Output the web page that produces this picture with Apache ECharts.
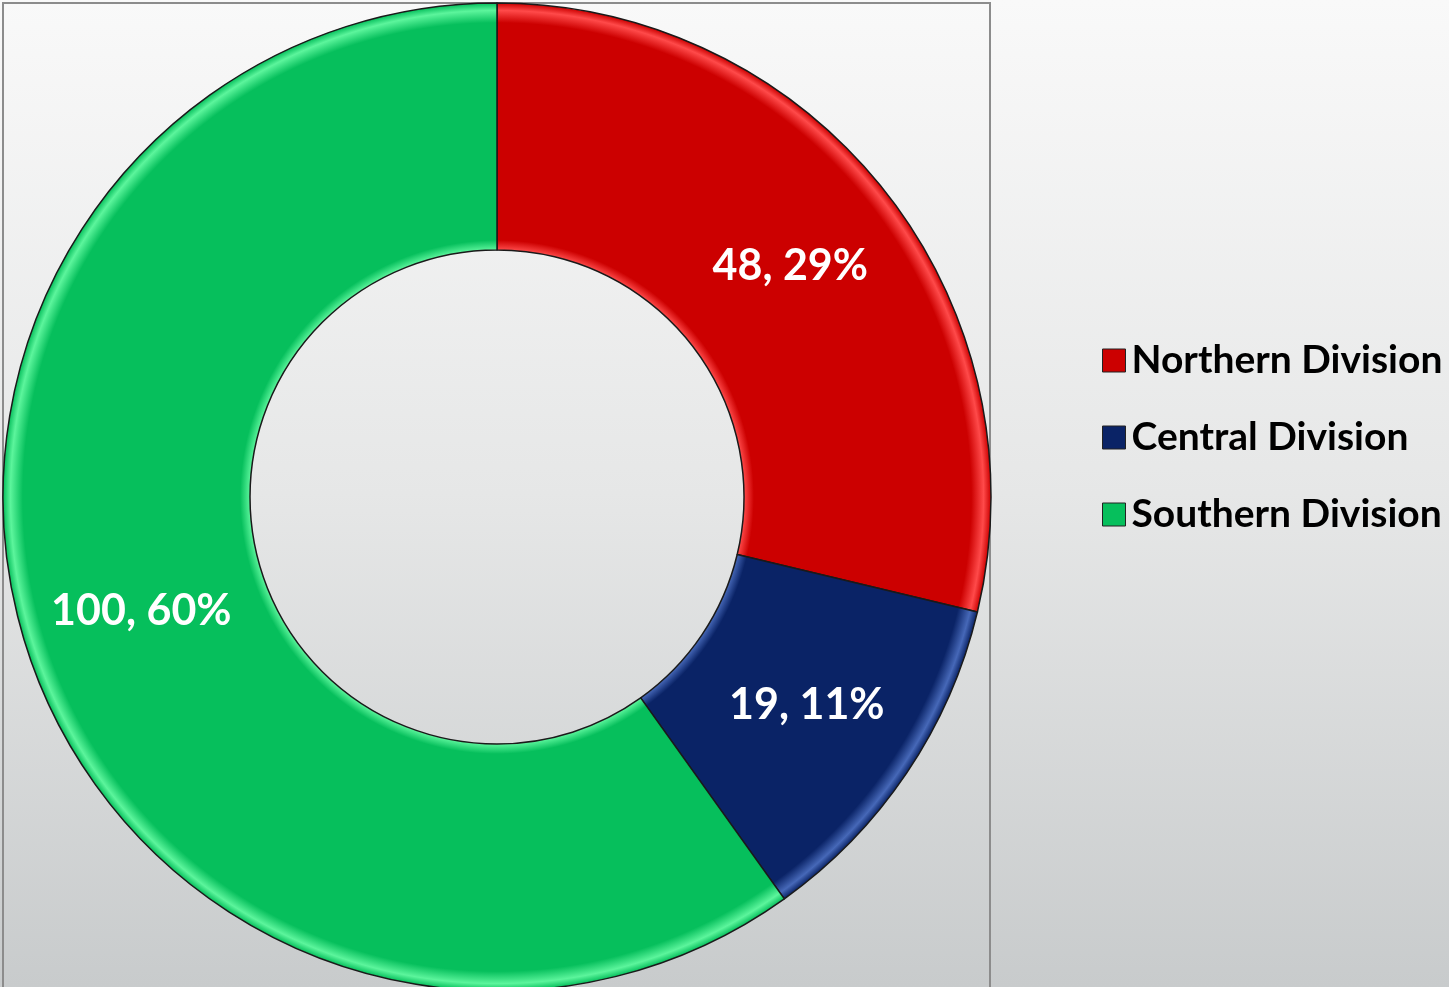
<!DOCTYPE html>
<html>
<head>
<meta charset="utf-8">
<script src="https://cdn.jsdelivr.net/npm/echarts@6/dist/echarts.min.js"></script>
<style>
  html, body { margin: 0; padding: 0; }
  #chart {
    width: 1449px;
    height: 987px;
    background: linear-gradient(to bottom, #f9f9f9 0%, #e6e7e7 50%, #c8cbcc 100%);
  }
</style>
</head>
<body>
<div id="chart"></div>
<script>
// data
const divisions = ['Northern Division', 'Central Division', 'Southern Division']
const values = [48, 19, 100]
// main colour, light rim colour
const mainColors = ['#cc0000', '#0a2366', '#06bf5c']
const rimColors = ['#ff4a4a', '#4668b8', '#5cf59c']

const chart = echarts.init(document.getElementById('chart'))

const cx = 497
const cy = 497
const rOut = 494
const rIn = 247

// radial gradient in page coordinates so the rims look bevelled
function bevel (main, rim) {
  const inner = rIn / rOut
  return {
    type: 'radial',
    x: cx,
    y: cy,
    r: rOut,
    global: true,
    colorStops: [
      { offset: 0, color: rim },
      { offset: inner, color: rim },
      { offset: inner + 0.02, color: main },
      { offset: 0.96, color: main },
      { offset: 0.985, color: rim },
      { offset: 1, color: main },
    ],
  }
}

const total = values.reduce((a, b) => a + b, 0)

const option = {
  animation: false,
  graphic: [
    {
      type: 'rect',
      shape: { x: 3, y: 3, width: 987, height: 1000 },
      style: { fill: 'none', stroke: '#8c8c8c', lineWidth: 2 },
      z: -1,
    },
  ],
  legend: {
    orient: 'vertical',
    left: 1097,
    top: 336,
    itemWidth: 23,
    itemHeight: 23,
    itemGap: 38,
    icon: 'rect',
    textStyle: {
      fontFamily: 'Lato',
      fontWeight: 'bold',
      fontSize: 39,
      color: '#000',
      padding: [0, 0, 0, 1],
    },
    data: divisions.map((name, i) => ({
      name,
      itemStyle: { color: mainColors[i], borderColor: '#222', borderWidth: 1 },
    })),
  },
  series: [
    {
      type: 'pie',
      center: [cx, cy],
      radius: [rIn, rOut],
      startAngle: 90,
      clockwise: true,
      label: {
        show: true,
        position: 'inside',
        fontFamily: 'Lato',
        fontWeight: 'bold',
        fontSize: 43,
        color: '#fff',
        formatter: p => p.value + ', ' + Math.round(p.value / total * 100) + '%',
      },
      labelLine: { show: false },
      emphasis: { disabled: true },
      data: divisions.map((name, i) => ({
        name,
        value: values[i],
        itemStyle: {
          color: bevel(mainColors[i], rimColors[i]),
          borderColor: '#1a1a1a',
          borderWidth: 1.5,
        },
      })),
    },
  ],
}

chart.setOption(option)
</script>
</body>
</html>
